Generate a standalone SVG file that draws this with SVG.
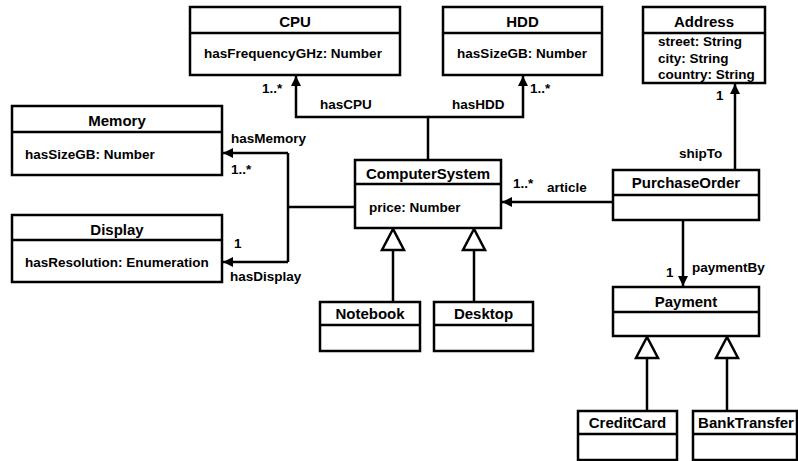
<svg xmlns="http://www.w3.org/2000/svg" width="798" height="461" viewBox="0 0 798 461">
<defs>
<style>
.box{fill:#fff;stroke:#000;stroke-width:2.5}
.div{stroke:#000;stroke-width:2.5}
.t{font-family:"Liberation Sans",Arial,sans-serif;font-weight:bold;font-size:15px;text-anchor:middle;fill:#000}
.a{font-family:"Liberation Sans",Arial,sans-serif;font-weight:bold;font-size:13.5px;fill:#000}
.l{font-family:"Liberation Sans",Arial,sans-serif;font-weight:bold;font-size:13.5px;fill:#000}
.c{fill:none;stroke:#000;stroke-width:2.5}
.tri{fill:#fff;stroke:#000;stroke-width:2.5}
</style>
<marker id="arr" viewBox="0 0 10 10" refX="10" refY="5" markerWidth="10" markerHeight="10" markerUnits="userSpaceOnUse" orient="auto">
<path d="M0,0 L10,5 L0,10 z" fill="#000"/>
</marker>
</defs>
<rect width="798" height="461" fill="#fff"/>
<g id="connectors">
<polyline class="c" points="428,160 428,117 296,117 296,76" marker-end="url(#arr)"/>
<polyline class="c" points="428,117 523,117 523,76" marker-end="url(#arr)"/>
<line class="c" x1="355" y1="207" x2="288" y2="207"/>
<polyline class="c" points="288,153 288,262"/>
<line class="c" x1="288" y1="153" x2="223" y2="153" marker-end="url(#arr)"/>
<line class="c" x1="288" y1="262" x2="223" y2="262" marker-end="url(#arr)"/>
<line class="c" x1="613" y1="202" x2="502" y2="202" marker-end="url(#arr)"/>
<line class="c" x1="735" y1="170" x2="735" y2="84" marker-end="url(#arr)"/>
<line class="c" x1="683" y1="220" x2="683" y2="286" marker-end="url(#arr)"/>
<line class="c" x1="393" y1="302" x2="393" y2="250"/>
<polygon class="tri" points="393,229 382,250 404,250"/>
<line class="c" x1="474" y1="302" x2="474" y2="250"/>
<polygon class="tri" points="474,229 463,250 485,250"/>
<line class="c" x1="647" y1="411" x2="647" y2="358"/>
<polygon class="tri" points="647,337 636,358 658,358"/>
<line class="c" x1="727" y1="411" x2="727" y2="358"/>
<polygon class="tri" points="727,337 716,358 738,358"/>
<text class="l" x="262" y="93">1..*</text>
<text class="l" x="320" y="109">hasCPU</text>
<text class="l" x="452" y="109">hasHDD</text>
<text class="l" x="530" y="93">1..*</text>
<text class="l" x="716" y="100">1</text>
<text class="l" x="679" y="158">shipTo</text>
<text class="l" x="231" y="143">hasMemory</text>
<text class="l" x="231" y="174">1..*</text>
<text class="l" x="234" y="248">1</text>
<text class="l" x="230" y="281">hasDisplay</text>
<text class="l" x="513" y="188">1..*</text>
<text class="l" x="547" y="192">article</text>
<text class="l" x="666" y="277">1</text>
<text class="l" x="692" y="272">paymentBy</text>
</g>
<g id="CPU">
<rect class="box" x="190" y="7" width="210" height="68"/>
<line class="div" x1="190" y1="33" x2="400" y2="33"/>
<text class="t" x="295" y="27">CPU</text>
<text class="a" x="293" y="58" text-anchor="middle">hasFrequencyGHz: Number</text>
</g>
<g id="HDD">
<rect class="box" x="443" y="7" width="159" height="68"/>
<line class="div" x1="443" y1="33" x2="602" y2="33"/>
<text class="t" x="522.5" y="27">HDD</text>
<text class="a" x="522" y="58" text-anchor="middle">hasSizeGB: Number</text>
</g>
<g id="Address">
<rect class="box" x="643" y="7" width="122" height="76"/>
<line class="div" x1="643" y1="33" x2="765" y2="33"/>
<text class="t" x="704" y="27">Address</text>
<text class="a" x="658" y="46">street: String</text>
<text class="a" x="658" y="63">city: String</text>
<text class="a" x="658" y="79">country: String</text>
</g>
<g id="Memory">
<rect class="box" x="12" y="106" width="210" height="69"/>
<line class="div" x1="12" y1="132" x2="222" y2="132"/>
<text class="t" x="117" y="126">Memory</text>
<text class="a" x="25" y="159">hasSizeGB: Number</text>
</g>
<g id="Display">
<rect class="box" x="12" y="215" width="210" height="67"/>
<line class="div" x1="12" y1="240" x2="222" y2="240"/>
<text class="t" x="117" y="235">Display</text>
<text class="a" x="25" y="267">hasResolution: Enumeration</text>
</g>
<g id="ComputerSystem">
<rect class="box" x="355" y="160" width="146" height="68"/>
<line class="div" x1="355" y1="184" x2="501" y2="184"/>
<text class="t" x="428" y="179">ComputerSystem</text>
<text class="a" x="369" y="212">price: Number</text>
</g>
<g id="Notebook">
<rect class="box" x="320" y="302" width="100" height="49"/>
<line class="div" x1="320" y1="325" x2="420" y2="325"/>
<text class="t" x="370" y="319">Notebook</text>
</g>
<g id="Desktop">
<rect class="box" x="434" y="302" width="99" height="49"/>
<line class="div" x1="434" y1="325" x2="533" y2="325"/>
<text class="t" x="483.5" y="319">Desktop</text>
</g>
<g id="PurchaseOrder">
<rect class="box" x="613" y="170" width="146" height="50"/>
<line class="div" x1="613" y1="195" x2="759" y2="195"/>
<text class="t" x="686" y="188">PurchaseOrder</text>
</g>
<g id="Payment">
<rect class="box" x="613" y="287" width="146" height="49"/>
<line class="div" x1="613" y1="312" x2="759" y2="312"/>
<text class="t" x="686" y="307">Payment</text>
</g>
<g id="CreditCard">
<rect class="box" x="578" y="411" width="99" height="49"/>
<line class="div" x1="578" y1="434" x2="677" y2="434"/>
<text class="t" x="627.5" y="428">CreditCard</text>
</g>
<g id="BankTransfer">
<rect class="box" x="693" y="411" width="104" height="49"/>
<line class="div" x1="693" y1="434" x2="797" y2="434"/>
<text class="t" x="746" y="428">BankTransfer</text>
</g>
</svg>
